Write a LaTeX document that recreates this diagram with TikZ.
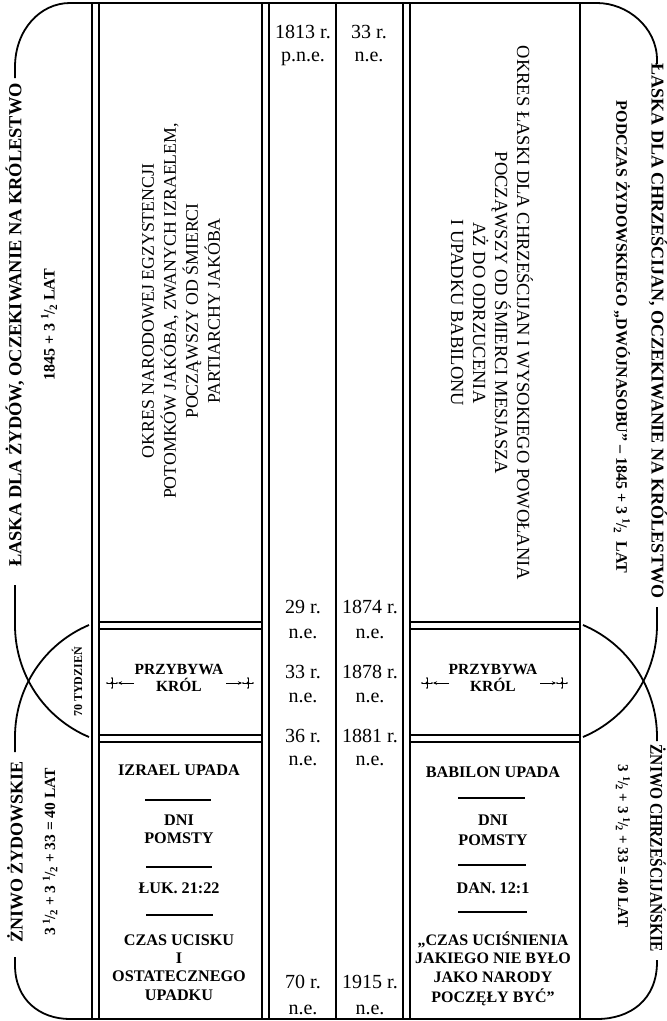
\documentclass[tikz,border=0pt]{standalone}
\usepackage{fontspec}
\setmainfont{Liberation Serif}
\usetikzlibrary{arrows.meta}
\newcommand\hlf{\textsuperscript{1}\kern-0.05em/\kern-0.05em\textsubscript{2}}
\begin{document}
\begin{tikzpicture}[x=1pt,y=-1pt,
  frame/.style={line width=1.8pt},
  thinrule/.style={line width=1.2pt},
  datelbl/.style={font=\fontsize{20}{20}\selectfont, anchor=base, inner sep=0pt},
  bighead/.style={font=\bfseries\fontsize{18}{18}\selectfont, inner sep=0pt},
  subhead/.style={font=\bfseries\fontsize{15.5}{15.5}\selectfont, inner sep=0pt},
  bodytxt/.style={align=center, inner sep=0pt},
  kingtxt/.style={font=\bfseries\fontsize{15.5}{16.5}\selectfont, align=center, inner sep=0pt},
  boxtxt/.style={font=\bfseries\fontsize{16.2}{16.2}\selectfont, anchor=base, inner sep=0pt},
  arr/.style={line width=0.8pt,-{Stealth[length=4pt,width=3.5pt]}},
  orn/.pic={\draw[line width=0.7pt] (-5,0)--(5,0) (0,-5)--(0,5);
            \fill (0,0) circle (1.7);
            \fill (-5,0) circle (0.9) (5,0) circle (0.9) (0,-5) circle (0.9) (0,5) circle (0.9);}
]
\useasboundingbox (0,0) rectangle (667,1021);
% outer frame
\draw[frame] (15,78) -- (15,67) .. controls (15,30) and (40,3) .. (70,3) -- (597,3)
  .. controls (627,3) and (657,27) .. (657,60) -- (657,64);
\draw[frame] (15,957) -- (15,965) .. controls (15,1000) and (40,1019) .. (70,1019) -- (597,1019)
  .. controls (630,1019) and (657,1000) .. (657,962) -- (657,960);
% left arcs
\draw[frame] (15,585) -- (15,625) .. controls (15,674) and (44,718) .. (89,737);
\draw[frame] (89,625) .. controls (44,644) and (15,688) .. (15,737) -- (15,752);
% right arcs
\draw[frame] (657,607) -- (657,625) .. controls (657,674) and (628,718) .. (583,737);
\draw[frame] (583,625) .. controls (628,644) and (657,688) .. (657,737) -- (657,741);
% vertical lines
\foreach \x in {92,99,262,269,336,403,410,580} \draw[frame] (\x,3) -- (\x,1019);
% horizontal double lines
\foreach \y in {622,629,735,742} {
  \draw[frame] (99,\y) -- (262,\y);
  \draw[frame] (410,\y) -- (580,\y);
}
% headers
\node[bighead, font=\bfseries\fontsize{18.4}{18.4}\selectfont, rotate=90] (lh1) at (15,325) {ŁASKA DLA ŻYDÓW, OCZEKIWANIE NA KRÓLESTWO};
\node[subhead, font=\bfseries\fontsize{16}{16}\selectfont, rotate=90] (lh2) at (49,325) {1845 + 3 \hlf{} LAT};
\node[bighead, rotate=-90] (rh1) at (658,331) {ŁASKA DLA CHRZEŚCIJAN, OCZEKIWANIE NA KRÓLESTWO};
\node[font=\bfseries\fontsize{16}{16}\selectfont, inner sep=0pt, rotate=-90] (rh2) at (622,337) {PODCZAS ŻYDOWSKIEGO „DWÓJNASOBU” – 1845 + 3 \hlf{}\ \ LAT};
\node[bighead, rotate=90] (lf1) at (15,852) {ŻNIWO ŻYDOWSKIE};
\node[subhead, rotate=90] (lf2) at (50,852) {3 \hlf{} + 3 \hlf{} + 33 = 40 LAT};
\node[bighead, rotate=-90] (rf1) at (658,848) {\scalebox{0.86}[1]{ŻNIWO CHRZEŚCIJAŃSKIE}};
\node[subhead, font=\bfseries\fontsize{15}{15}\selectfont, rotate=-90] (rf2) at (623,846) {3 \hlf{} + 3 \hlf{} + 33 = 40 LAT};
\node[font=\bfseries\fontsize{12}{12}\selectfont, inner sep=0pt, rotate=90] (tyd) at (77,682) {70 TYDZIEŃ};
% body texts
\node[bodytxt, font=\fontsize{17.8}{22}\selectfont, rotate=90] (lbody) at (181,311) {OKRES NARODOWEJ EGZYSTENCJI\\POTOMKÓW JAKÓBA, ZWANYCH IZRAELEM,\\POCZĄWSZY OD ŚMIERCI\\PARTIARCHY JAKÓBA};
\node[bodytxt, font=\fontsize{18.5}{22}\selectfont, rotate=-90] (rbody) at (492,313) {OKRES ŁASKI DLA CHRZEŚCIJAN I WYSOKIEGO POWOŁANIA\\POCZĄWSZY OD ŚMIERCI MESJASZA\\AŻ DO ODRZUCENIA\\I UPADKU BABILONU};
% dates
\node[datelbl] (d1a) at (303,38) {1813 r.};
\node[datelbl] (d1b) at (303,61) {p.n.e.};
\node[datelbl] (d2a) at (369,38) {33 r.};
\node[datelbl] (d2b) at (369,61) {n.e.};
\foreach \yy/\l/\r [count=\i] in {613/29 r./1874 r., 638/n.e./n.e., 678/33 r./1878 r., 702/n.e./n.e., 742/36 r./1881 r., 765/n.e./n.e., 988/70 r./1915 r., 1014/n.e./n.e.} {
  \node[datelbl] (dl\i) at (303,\yy) {\l};
  \node[datelbl] (dr\i) at (370,\yy) {\r};
}
% king boxes
\node[kingtxt] (kl) at (179,678) {PRZYBYWA\\KRÓL};
\node[kingtxt] (kr) at (493,678) {PRZYBYWA\\KRÓL};
\coordinate (o1) at (112,683); \coordinate (o2) at (248,683);
\coordinate (o3) at (427,683); \coordinate (o4) at (562,683);
\pic at (o1) {orn}; \pic at (o2) {orn}; \pic at (o3) {orn}; \pic at (o4) {orn};
\draw[arr] (134,683) -- (118,683);
\draw[arr] (226,683) -- (242,683);
\draw[arr] (449,683) -- (433,683);
\draw[arr] (540,683) -- (556,683);
% bottom left box
\node[boxtxt] (b1) at (179,775) {IZRAEL UPADA};
\draw[thinrule] (145,800) -- (211,800);
\node[boxtxt] (b2) at (179,825) {DNI};
\node[boxtxt] (b3) at (179,843) {POMSTY};
\draw[thinrule] (146,867) -- (212,867);
\node[boxtxt] (b4) at (179,893) {ŁUK. 21:22};
\draw[thinrule] (146,915) -- (213,915);
\node[boxtxt] (b5) at (179,945) {CZAS UCISKU};
\node[boxtxt] (b6) at (179,963) {I};
\node[boxtxt] (b7) at (179,981) {OSTATECZNEGO};
\node[boxtxt] (b8) at (179,1000) {UPADKU};
% bottom right box
\node[boxtxt] (c1) at (493,777) {BABILON UPADA};
\draw[thinrule] (458,798) -- (525,798);
\node[boxtxt] (c2) at (493,825) {DNI};
\node[boxtxt] (c3) at (493,845) {POMSTY};
\draw[thinrule] (458,865) -- (526,865);
\node[boxtxt] (c4) at (493,893) {DAN. 12:1};
\draw[thinrule] (458,912) -- (527,912);
\node[boxtxt, font=\bfseries\fontsize{16}{16}\selectfont] (c5) at (493,945) {„CZAS UCIŚNIENIA};
\node[boxtxt, font=\bfseries\fontsize{16}{16}\selectfont] (c6) at (493,963) {JAKIEGO NIE BYŁO};
\node[boxtxt, font=\bfseries\fontsize{16}{16}\selectfont] (c7) at (493,982) {JAKO NARODY};
\node[boxtxt, font=\bfseries\fontsize{16}{16}\selectfont] (c8) at (493,1002) {POCZĘŁY BYĆ”};
\end{tikzpicture}
\end{document}
